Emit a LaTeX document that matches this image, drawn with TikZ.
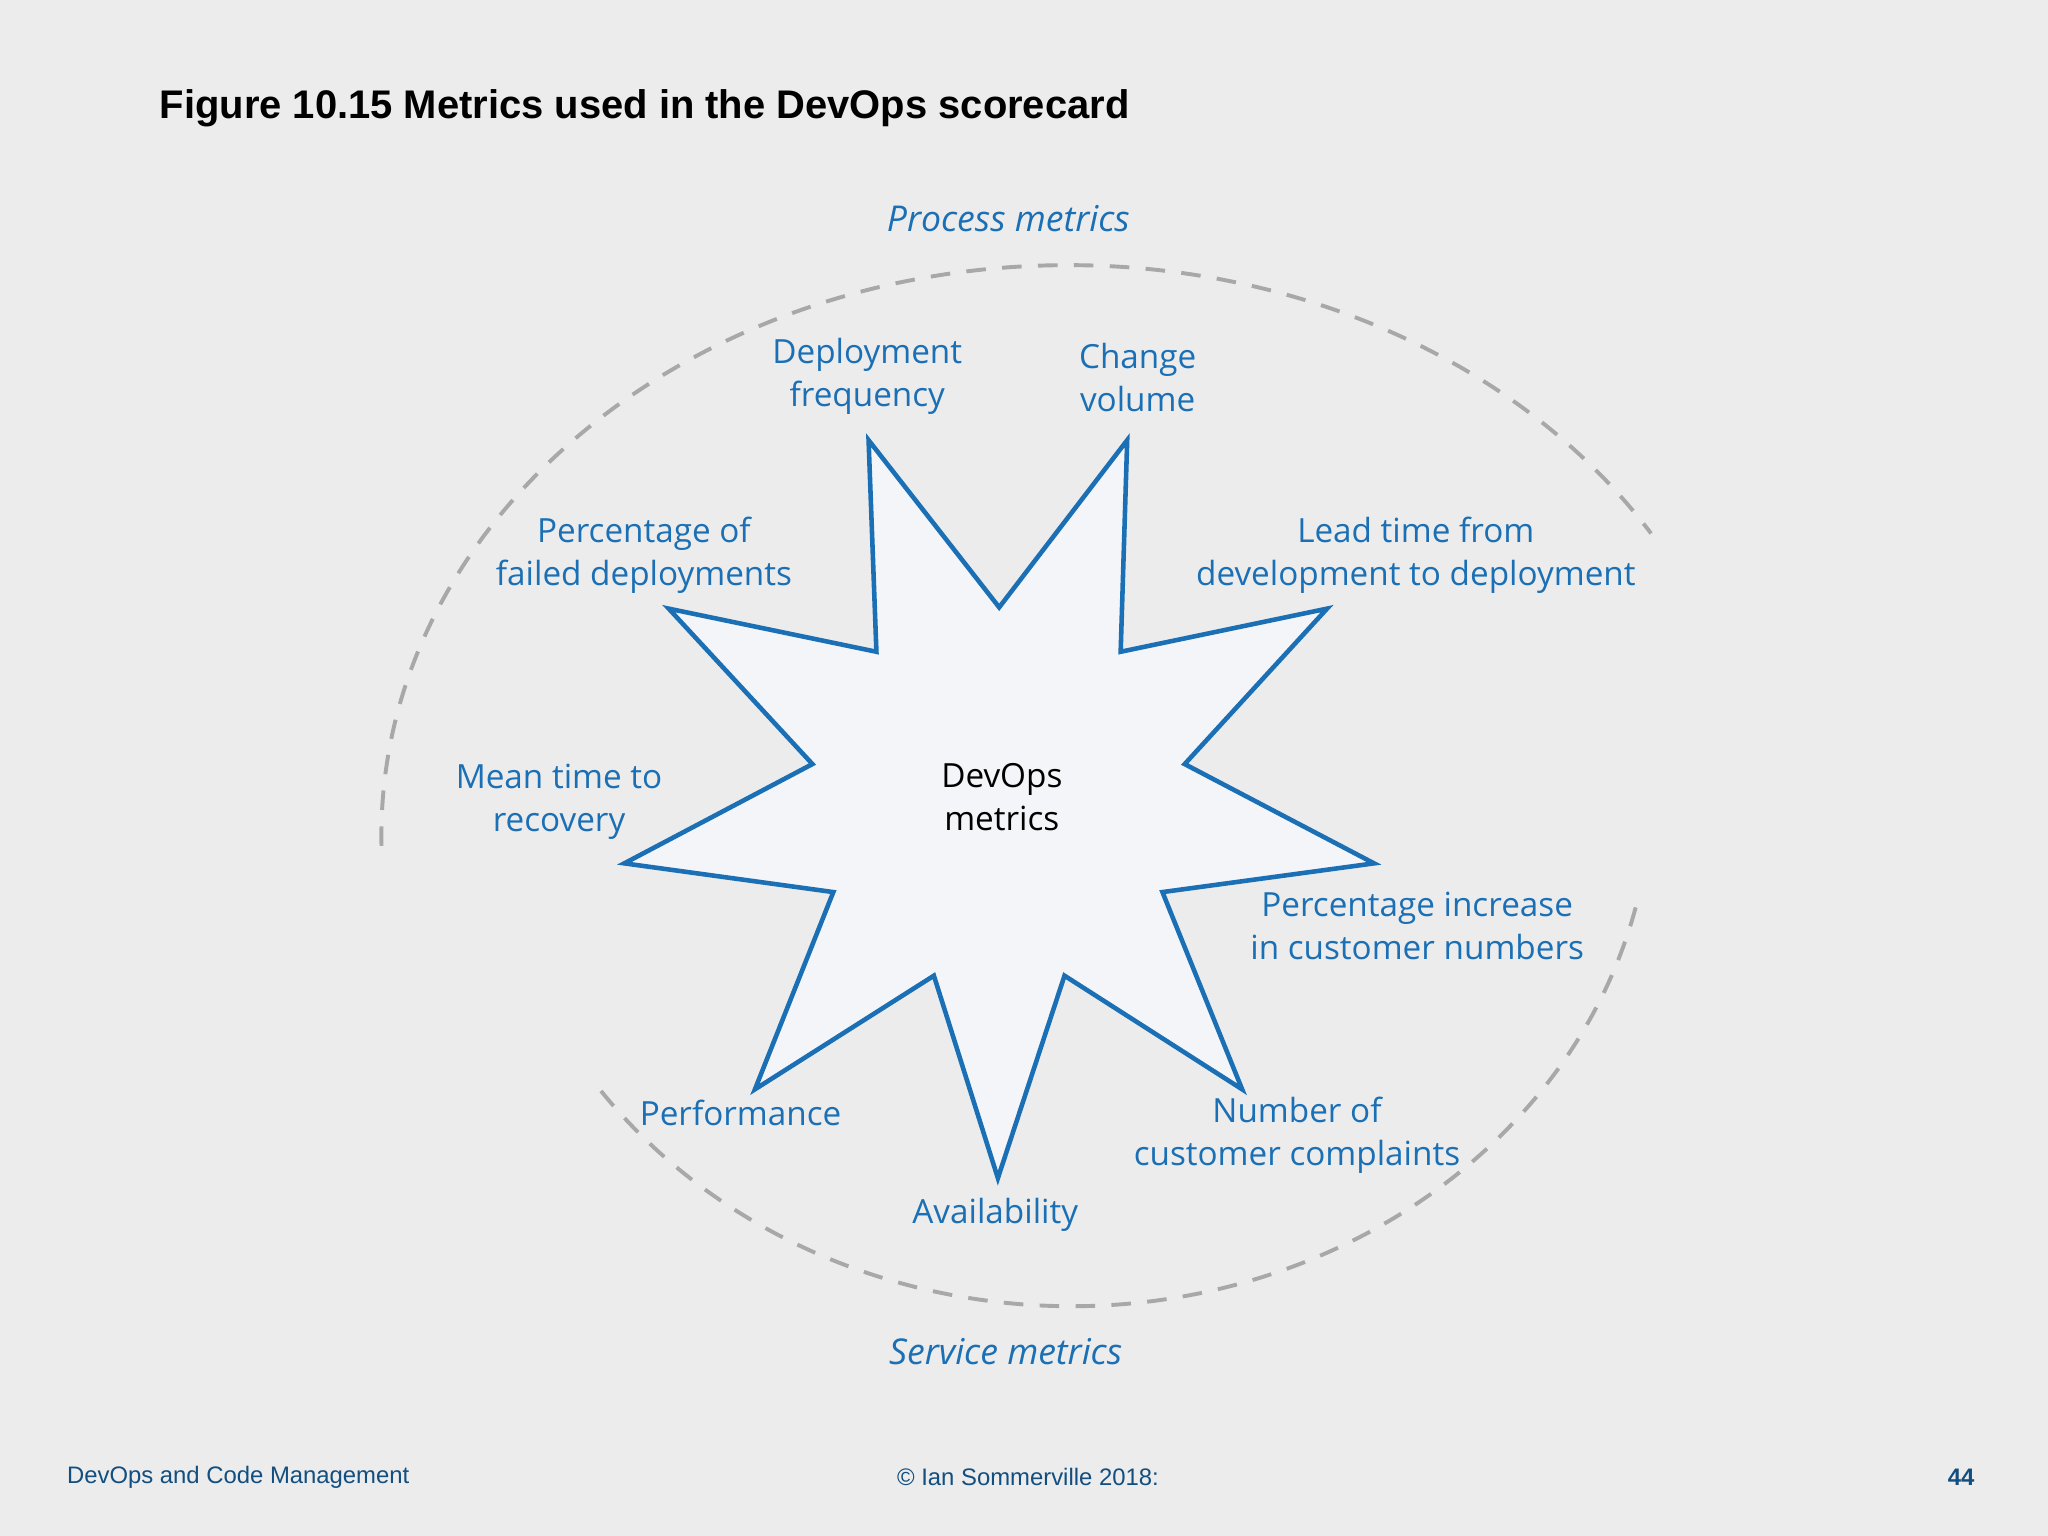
\documentclass[tikz,border=0pt]{standalone}
\usepackage{fontspec}
\setmainfont{Open Sans}
\newfontfamily\titlefont{Liberation Sans}
\definecolor{bg}{HTML}{ECECEC}
\definecolor{blu}{HTML}{1A6FB5}
\definecolor{dsh}{HTML}{A8A8A8}
\definecolor{fil}{HTML}{F4F5F8}
\tikzset{lbl/.style={text=blu,align=center,font=\fontsize{14.5pt}{18.8pt}\selectfont,inner sep=0pt},
ital/.style={text=blu,font=\fontsize{15.5pt}{18pt}\selectfont\itshape,inner sep=0pt},
foot/.style={text=blu!70!black,font=\titlefont\fontsize{10.4pt}{12pt}\selectfont,inner sep=0pt},
arcs/.style={draw=dsh,line width=0.06cm,dash pattern=on 0.3cm off 0.25cm}}
\begin{document}
\begin{tikzpicture}[x=0.02cm,y=-0.02cm]
\fill[bg] (0,0) rectangle (1568,1176);
\useasboundingbox (0,0) rectangle (1568,1176);
\node[anchor=west,inner sep=0pt,font=\titlefont\bfseries\fontsize{17.4pt}{20pt}\selectfont] (title) at (122,83) {Figure 10.15 Metrics used in the DevOps scorecard};
\draw[arcs] (818,640) ++(181:526 and -437) arc[start angle=181,end angle=32,x radius=526,y radius=-437];
\draw[arcs] (820,600) ++(346.3:445 and -400) arc[start angle=346.3,end angle=214.7,x radius=445,y radius=-400];
\draw[blu,line width=0.07cm,fill=fil,line join=miter] (665,337)--(765,465)--(863,337)--(858,499)--(1016,466)--(907,585)--(1052,661)--(890,683)--(951,834)--(815,747)--(764,902)--(715,747)--(578,834)--(638,683)--(478,661)--(622,585)--(512,466)--(671,499)--cycle;
\node[lbl,text=black] (c) at (767,610) {DevOps\\metrics};
\node[ital] (pm) at (772,167) {Process metrics};
\node[ital] (sm) at (770,1035) {Service metrics};
\node[lbl] (df) at (664,288) {Deployment\\frequency};
\node[lbl] (cv) at (871,289) {Change\\volume};
\node[lbl] (lt) at (1084,425) {Lead time from\\development to deployment};
\node[lbl] (pf) at (493,425) {Percentage of\\failed deployments};
\node[lbl] (mt) at (428,614) {Mean time to\\recovery};
\node[lbl] (pi) at (1085,709) {Percentage increase\\in customer numbers};
\node[lbl] (nc) at (993,869) {Number of\\customer complaints};
\node[lbl] (pe) at (567,852) {Performance};
\node[lbl] (av) at (762,930) {Availability};
\node[foot,anchor=west] (f1) at (51,1131) {DevOps and Code Management};
\node[foot] (f2) at (787,1131) {© Ian Sommerville 2018:};
\node[foot,anchor=east,font=\titlefont\bfseries\fontsize{10.4pt}{12pt}\selectfont] (f3) at (1512,1131) {44};
\end{tikzpicture}
\end{document}
